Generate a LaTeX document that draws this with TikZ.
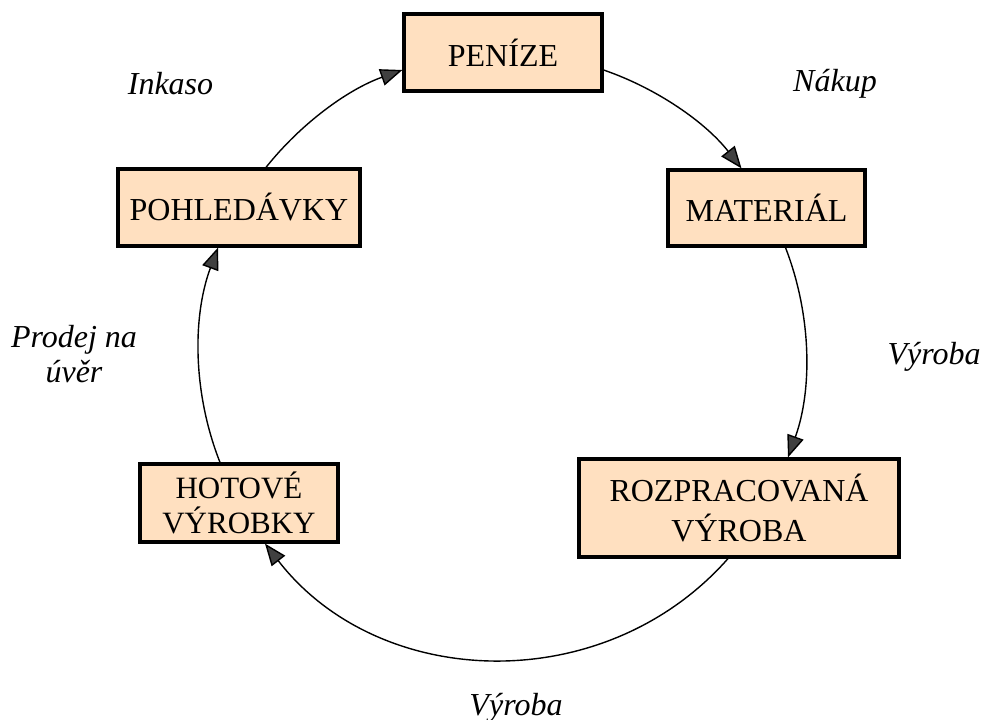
\documentclass[tikz,border=0pt]{standalone}
\usepackage{fontspec}
\setmainfont{Liberation Serif}
\usetikzlibrary{arrows.meta}
\definecolor{boxfill}{RGB}{255,224,192}
\definecolor{tipgray}{RGB}{64,64,64}
\tikzset{
  box/.style={draw=black, line width=3.2pt, fill=boxfill, inner sep=0pt, align=center,
    font=\fontsize{32}{40}\selectfont},
  lab/.style={anchor=base, align=center, font=\fontsize{32}{35}\selectfont\itshape},
  arr/.style={line width=1.4pt, -{Triangle[length=22pt,width=17pt,fill=tipgray]}}
}
\begin{document}
\begin{tikzpicture}[x=1pt,y=1pt]
\useasboundingbox (0,0) rectangle (985,720);
\node[box, minimum width=198pt, minimum height=77pt] (pen) at (503,667.5) {PENÍZE};
\node[box, minimum width=197pt, minimum height=76pt] (mat) at (766.5,512) {MATERIÁL};
\node[box, minimum width=320pt, minimum height=98pt] (roz) at (739,212) {ROZPRACOVANÁ\\VÝROBA};
\node[box, minimum width=198pt, minimum height=78pt, font=\fontsize{31}{35}\selectfont] (hot) at (239,217) {HOTOVÉ\\VÝROBKY};
\node[box, minimum width=242pt, minimum height=77pt] (pohl) at (239,512.5) {POHLEDÁVKY};

\node[lab] (l1) at (170.5,625) {Inkaso};
\node[lab] (l2) at (835,628) {Nákup};
\node[lab] (l3) at (934,355) {Výroba};
\node[lab] (l4) at (516,5) {Výroba};
\node[lab] (l5) at (74,337) {Prodej na\\úvěr};

\draw[arr] ([xshift=27pt]pohl.north) to[bend left=16, looseness=0.87] ([yshift=-17.5pt]pen.west);
\draw[arr] ([yshift=-17.5pt]pen.east) to[bend left=16.5, looseness=0.87] ([xshift=-25pt]mat.north);
\draw[arr] ([xshift=19pt]mat.south) to[bend left=20.5, looseness=0.88] ([xshift=49pt]roz.north);
\draw[arr] ([xshift=-11pt]roz.south) to[bend left=50.4, looseness=1.03] ([xshift=26pt]hot.south);
\draw[arr] ([xshift=-19pt]hot.north) to[bend left=21, looseness=0.88] ([xshift=-21pt]pohl.south);
\end{tikzpicture}
\end{document}
